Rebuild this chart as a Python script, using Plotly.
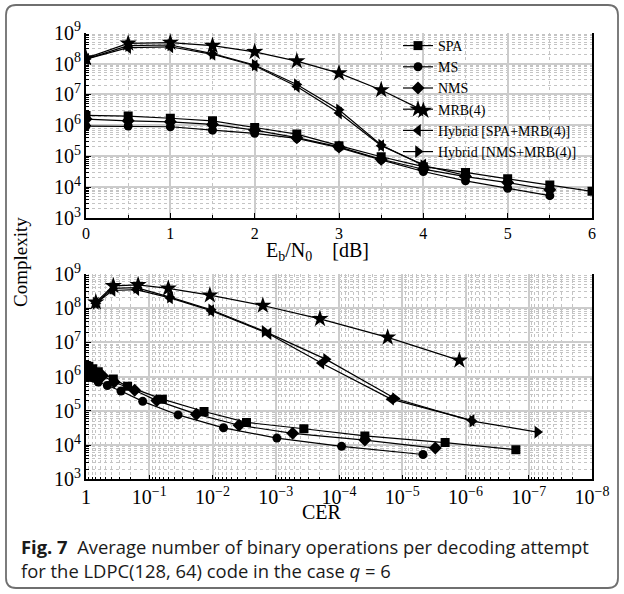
import plotly.graph_objects as go

# ---------------- data ----------------
ebn0 = [0, 0.5, 1, 1.5, 2, 2.5, 3, 3.5, 4, 4.5, 5, 5.5, 6]

spa = [2.1e6, 2.0e6, 1.7e6, 1.4e6, 8.5e5, 5.2e5, 2.2e5, 9.6e4, 4.6e4, 3.0e4, 1.85e4, 1.18e4, 7.3e3]
ms = [9.5e5, 9.5e5, 9.0e5, 7.0e5, 5.5e5, 3.8e5, 1.9e5, 7.6e4, 3.2e4, 1.6e4, 9.2e3, 5.3e3]
nms = [1.6e6, 1.4e6, 1.3e6, 1.07e6, 7.0e5, 4.0e5, 2.0e5, 8.0e4, 3.8e4, 2.2e4, 1.4e4, 8.2e3]
mrb = [1.5e8, 4.5e8, 4.8e8, 3.8e8, 2.4e8, 1.2e8, 4.9e7, 1.4e7, 3.0e6]
hyb_spa = [1.4e8, 3.3e8, 3.5e8, 2.0e8, 8.5e7, 1.8e7, 2.5e6, 2.2e5, 5.3e4]
hyb_nms = [1.4e8, 3.8e8, 4.0e8, 2.1e8, 9.0e7, 2.1e7, 3.2e6, 2.3e5, 5.0e4, 2.4e4]

cer_spa = [0.99, 0.9, 0.78, 0.64, 0.37, 0.22, 0.062, 0.0136, 2.9e-3, 3.6e-4, 3.9e-5, 2.1e-6, 1.6e-7]
cer_ms = [0.95, 0.86, 0.75, 0.64, 0.46, 0.28, 0.127, 0.035, 6.7e-3, 9.6e-4, 9.1e-5, 4.7e-6]
cer_nms = [0.95, 0.85, 0.72, 0.55, 0.36, 0.17, 0.076, 0.018, 3.8e-3, 5.4e-4, 3.9e-5, 3.0e-6]
cer_mrb = [0.70, 0.37, 0.15, 0.05, 0.011, 1.6e-3, 2.0e-4, 1.7e-5, 1.25e-6]
cer_hyb_spa = [0.70, 0.38, 0.16, 0.047, 0.0105, 1.3e-3, 1.9e-4, 1.5e-5, 8.0e-7]
cer_hyb_nms = [0.70, 0.38, 0.16, 0.047, 0.0105, 1.5e-3, 1.6e-4, 1.3e-5, 7.8e-7, 7.3e-8]

names = ["SPA", "MS", "NMS", "MRB(4)", "Hybrid [SPA+MRB(4)]", "Hybrid [NMS+MRB(4)]"]
symbols = ["square", "circle", "diamond", "star", "triangle-left", "triangle-right"]
sizes = [9, 9, 10, 13, 11, 11]
complexity = [spa, ms, nms, mrb, hyb_spa, hyb_nms]
cers = [cer_spa, cer_ms, cer_nms, cer_mrb, cer_hyb_spa, cer_hyb_nms]

W, H = 624, 594
SERIF = "Liberation Serif, Times New Roman, serif"

fig = go.Figure()
for name, sym, sz, cy in zip(names, symbols, sizes, complexity):
    fig.add_trace(go.Scatter(
        x=ebn0[:len(cy)], y=cy, name=name, mode="lines+markers",
        line=dict(color="black", width=1.2),
        marker=dict(symbol=sym, size=sz, color="black"),
        xaxis="x", yaxis="y", showlegend=True))
for name, sym, sz, cy, cx in zip(names, symbols, sizes, complexity, cers):
    fig.add_trace(go.Scatter(
        x=cx, y=cy, name=name, mode="lines+markers",
        line=dict(color="black", width=1.2),
        marker=dict(symbol=sym, size=sz, color="black"),
        xaxis="x2", yaxis="y2", showlegend=False))

def px_x(p):
    return p / W

def px_y(p):
    return 1 - p / H

grid = dict(showgrid=True, gridcolor="#cccccc", gridwidth=1.5)
minor = dict(showgrid=True, gridcolor="#c4c4c4", griddash="dot", gridwidth=1,
             ticks="inside", ticklen=3, tickcolor="black")
tickfont = dict(family=SERIF, size=16, color="black")

fig.update_layout(
    width=W, height=H,
    margin=dict(l=0, r=0, t=0, b=0, autoexpand=False),
    paper_bgcolor="white", plot_bgcolor="white",
    font=dict(family=SERIF, color="black"),
    xaxis=dict(domain=[px_x(86), px_x(592)], anchor="y", range=[0, 6], dtick=1,
               showline=True, linecolor="black", linewidth=1.5, mirror=False,
               ticks="inside", ticklen=5, tickcolor="black", tickfont=tickfont,
               minor=dict(dtick=0.5, **minor), zeroline=False, automargin=False, **grid),
    yaxis=dict(domain=[px_y(218), px_y(32.7)], anchor="x", type="log", range=[3, 9],
               dtick=1, exponentformat="power",
               showline=True, linecolor="black", linewidth=1.5, mirror=True,
               ticks="inside", ticklen=5, tickcolor="black", tickfont=tickfont,
               minor=dict(**minor), zeroline=False, automargin=False, **grid),
    xaxis2=dict(domain=[px_x(86), px_x(592)], anchor="y2", type="log", range=[0, -8],
                dtick=1, exponentformat="power",
                showline=True, linecolor="black", linewidth=1.5, mirror=False,
                ticks="inside", ticklen=5, tickcolor="black", tickfont=tickfont,
                minor=dict(**minor), zeroline=False, automargin=False, **grid),
    yaxis2=dict(domain=[px_y(479.3), px_y(274)], anchor="x2", type="log", range=[3, 9],
                dtick=1, exponentformat="power",
                showline=True, linecolor="black", linewidth=1.5, mirror=True,
                ticks="inside", ticklen=5, tickcolor="black", tickfont=tickfont,
                minor=dict(**minor), zeroline=False, automargin=False, **grid),
    legend=dict(x=px_x(398), y=px_y(30), xanchor="left", yanchor="top",
                bgcolor="rgba(0,0,0,0)", font=dict(family=SERIF, size=14, color="black"),
                itemwidth=30, tracegroupgap=0),
)

ann = [
    dict(text="E<sub>b</sub>/N<sub>0</sub>&nbsp;&nbsp;&nbsp;&nbsp;[dB]", x=px_x(317), y=px_y(251), size=20),
    dict(text="CER", x=px_x(322), y=px_y(512), size=20),
    dict(text="Complexity", x=px_x(20), y=px_y(262), textangle=-90, size=19),
]
for a in ann:
    sz = a.pop("size")
    fig.add_annotation(xref="paper", yref="paper", showarrow=False,
                       xanchor="center", yanchor="middle",
                       font=dict(family=SERIF, size=sz, color="black"), **a)

CAP = "Open Sans, Noto Sans, sans-serif"
fig.add_annotation(xref="paper", yref="paper", showarrow=False,
                   x=px_x(19), y=px_y(558.5), xanchor="left", yanchor="middle", align="left",
                   text=("<b>Fig. 7</b>  Average number of binary operations per decoding attempt"
                         "<br>for the LDPC(128, 64) code in the case <i>q</i> = 6"),
                   font=dict(family=CAP, size=18.4, color="#1a1a1a"))

# rounded frame
x0, x1 = px_x(6), px_x(618)
y0, y1 = px_y(588), px_y(5)
rx, ry = 10 / W, 10 / H
path = (f"M {x0+rx},{y1} L {x1-rx},{y1} Q {x1},{y1} {x1},{y1-ry} "
        f"L {x1},{y0+ry} Q {x1},{y0} {x1-rx},{y0} L {x0+rx},{y0} "
        f"Q {x0},{y0} {x0},{y0+ry} L {x0},{y1-ry} Q {x0},{y1} {x0+rx},{y1} Z")
fig.add_shape(type="path", path=path, xref="paper", yref="paper", layer="above",
              line=dict(color="#6f6f6f", width=1.8))

fig.write_html("out.html",
               config={"displayModeBar": False},
               post_script="document.body.style.margin='0';document.body.style.overflow='hidden';")
